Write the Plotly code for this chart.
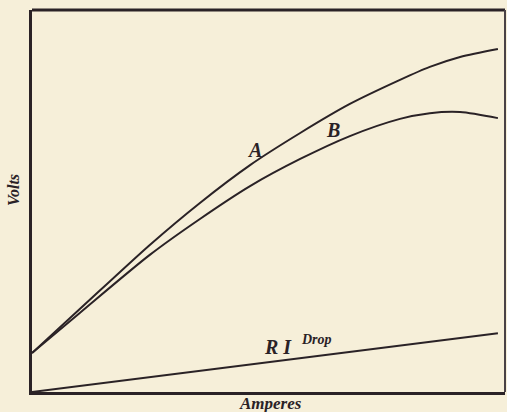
import plotly.graph_objects as go

# Characteristic curves (amperes vs volts, arbitrary units 0-100)
amps_a = [0, 10.1, 24.9, 35.5, 46.1, 56.7, 67.2, 77.8, 84.1, 90.5, 98.5]
volts_a = [10.2, 21.7, 38.5, 49.5, 59.4, 67.8, 75.4, 81.7, 85.1, 87.7, 89.8]

amps_b = [0, 10.1, 24.9, 35.5, 46.1, 56.7, 67.2, 77.8, 84.1, 90.5, 98.5]
volts_b = [10.2, 20.7, 35.9, 45.3, 53.9, 61.0, 67.0, 71.5, 73.0, 73.3, 71.7]

amps_ri = [0, 98.5]
volts_ri = [0, 15.4]

BG = "#f6efd9"
INK = "#2a2226"
FONT = "Liberation Serif"

fig = go.Figure()
for xs, ys in [(amps_a, volts_a), (amps_b, volts_b), (amps_ri, volts_ri)]:
    fig.add_trace(go.Scatter(
        x=xs, y=ys, mode="lines",
        line=dict(color=INK, width=2, shape="spline", smoothing=0.8),
        hoverinfo="skip", showlegend=False,
    ))

def label(text, x, y, size, ref="data", angle=0):
    fig.add_annotation(
        x=x, y=y,
        xref="x" if ref == "data" else "paper",
        yref="y" if ref == "data" else "paper",
        xanchor="center", yanchor="middle",
        text=f"<b><i>{text}</i></b>",
        showarrow=False, textangle=angle,
        font=dict(family=FONT, size=size, color=INK),
    )

label("A", 47.1, 63.4, 20)
label("B", 63.6, 68.6, 20)
label("R I", 52.0, 11.8, 20)
label("Drop", 60.2, 13.8, 14)
label("Amperes", 0.505, -0.029, 17, ref="paper")
label("Volts", -0.038, 0.529, 16, ref="paper", angle=-90)

axis_common = dict(
    range=[0, 100], showgrid=False, zeroline=False, showticklabels=False,
    ticks="", showline=True, linecolor=INK, linewidth=3, mirror=False,
    fixedrange=True,
)
fig.update_xaxes(**axis_common)
fig.update_yaxes(**axis_common)

# top and right frame edges
fig.add_shape(type="line", xref="paper", yref="paper", x0=0, x1=1, y0=1, y1=1,
              line=dict(color=INK, width=3))
fig.add_shape(type="line", xref="paper", yref="paper", x0=1, x1=1, y0=0, y1=1,
              line=dict(color="#4a4246", width=2))

fig.update_layout(
    width=507, height=412,
    margin=dict(l=32, r=2, t=10, b=20),
    paper_bgcolor=BG, plot_bgcolor=BG,
    showlegend=False,
)

fig.write_html("out.html")
